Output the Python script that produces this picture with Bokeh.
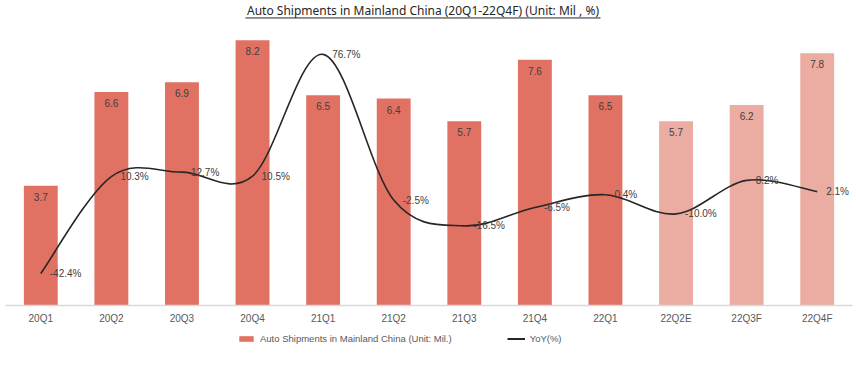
from bokeh.plotting import figure
from bokeh.layouts import column
from bokeh.models import (Range1d, FixedTicker, ColumnDataSource, Legend, LegendItem,
                          Label)
from bokeh.core.properties import value
from bokeh.embed import file_html
from bokeh.resources import INLINE

quarters = ["20Q1", "20Q2", "20Q3", "20Q4", "21Q1", "21Q2", "21Q3", "21Q4",
            "22Q1", "22Q2E", "22Q3F", "22Q4F"]
shipments = [3.7, 6.6, 6.9, 8.2, 6.5, 6.4, 5.7, 7.6, 6.5, 5.7, 6.2, 7.8]
yoy = [-42.4, 10.3, 12.7, 10.5, 76.7, -2.5, -16.5, -6.5, 0.4, -10.0, 8.2, 2.1]
is_forecast = [False] * 9 + [True] * 3

TITLE = "Auto Shipments in Mainland China (20Q1-22Q4F) (Unit: Mil , %)"
BAR_NAME = "Auto Shipments in Mainland China (Unit: Mil.)"
LINE_NAME = "YoY(%)"

DARK = "#E07163"
LIGHT = "#EBACA2"
LINE = "#262626"
FONT = "Liberation Sans"

xs = [i + 0.5 for i in range(len(quarters))]

p = figure(width=856, height=328, frame_width=847, frame_height=305,
           output_backend="svg", toolbar_location=None,
           x_range=Range1d(0, len(quarters)), y_range=Range1d(0, 9.43),
           min_border_left=5, min_border_right=4, min_border_top=0,
           min_border_bottom=0)
p.extra_y_ranges = {"yoy": Range1d(-59.8, 106.0)}
p.outline_line_color = None
p.xgrid.visible = False
p.ygrid.visible = False
p.yaxis.visible = False

ax = p.xaxis[0]
ax.ticker = FixedTicker(ticks=xs)
ax.major_label_overrides = {x: q for x, q in zip(xs, quarters)}
ax.axis_line_color = "#d9d9d9"
ax.axis_line_width = 1.5
ax.major_tick_line_color = None
ax.minor_tick_line_color = None
ax.major_label_text_font = FONT
ax.major_label_text_font_size = "10px"
ax.major_label_text_color = "#595959"
ax.major_label_standoff = 1

src = ColumnDataSource(dict(
    x=xs, top=shipments,
    color=[LIGHT if f else DARK for f in is_forecast],
    lab=[f"{v:.1f}" for v in shipments],
))
p.vbar(x="x", top="top", width=0.48, bottom=0, source=src,
       fill_color="color", line_color=None)
p.text(x="x", y="top", text="lab", source=src, text_align="center",
       text_baseline="middle", y_offset=11, text_font=value(FONT),
       text_font_size="10px", text_color="#404040")

# smoothed YoY line drawn as Bezier segments through the data points
n = len(yoy)
x0, y0, x1, y1, cx0, cy0, cx1, cy1 = ([] for _ in range(8))
for i in range(n - 1):
    pa = (xs[max(i - 1, 0)], yoy[max(i - 1, 0)])
    pb = (xs[i], yoy[i])
    pc = (xs[i + 1], yoy[i + 1])
    pd = (xs[min(i + 2, n - 1)], yoy[min(i + 2, n - 1)])
    x0.append(pb[0]); y0.append(pb[1]); x1.append(pc[0]); y1.append(pc[1])
    cx0.append(pb[0] + (pc[0] - pa[0]) / 6); cy0.append(pb[1] + (pc[1] - pa[1]) / 6)
    cx1.append(pc[0] - (pd[0] - pb[0]) / 6); cy1.append(pc[1] - (pd[1] - pb[1]) / 6)
p.bezier(x0=x0, y0=y0, x1=x1, y1=y1, cx0=cx0, cy0=cy0, cx1=cx1, cy1=cy1,
         line_color=LINE, line_width=1.6, y_range_name="yoy")

ysrc = ColumnDataSource(dict(x=xs, y=yoy, lab=[f"{v:.1f}%" for v in yoy]))
p.text(x="x", y="y", text="lab", source=ysrc, y_range_name="yoy",
       text_align="left", text_baseline="middle", x_offset=9,
       text_font=value(FONT), text_font_size="10px", text_color="#404040")

# chart title with underline
p.add_layout(Label(x=5.915, y=9.11, text=TITLE, text_align="center",
                   text_baseline="middle", text_font="Noto Sans",
                   text_font_size="12px", text_color="#262626"))
p.segment(x0=[3.40], y0=[8.89], x1=[8.43], y1=[8.89], line_color="#262626",
          line_width=1)

# legend strip below the chart (swatch renderers sit outside the visible range)
lg = figure(width=856, height=40, output_backend="svg", toolbar_location=None,
            x_range=Range1d(0, 1), y_range=Range1d(0, 1),
            x_axis_type=None, y_axis_type=None,
            min_border_left=0, min_border_right=0, min_border_top=0,
            min_border_bottom=0)
lg.outline_line_color = None
lg.xgrid.visible = False
lg.ygrid.visible = False
r_bar = lg.vbar(x=[5], top=[5], bottom=[4], width=0.5, fill_color=DARK,
                line_color=None)
r_line = lg.line(x=[5, 6], y=[5, 5], line_color=LINE, line_width=2)
legend = Legend(items=[LegendItem(label=BAR_NAME, renderers=[r_bar], index=0),
                       LegendItem(label=LINE_NAME, renderers=[r_line])],
                orientation="horizontal", location=(232, 22),
                label_text_font=FONT, label_text_font_size="9.5px",
                label_text_color="#595959", glyph_width=18, glyph_height=7,
                label_standoff=5, spacing=55, border_line_color=None,
                background_fill_alpha=0, padding=0, margin=0,
                label_height=10)
lg.add_layout(legend)

layout = column(p, lg, spacing=0)
open("out.html", "w").write(file_html(layout, INLINE))
